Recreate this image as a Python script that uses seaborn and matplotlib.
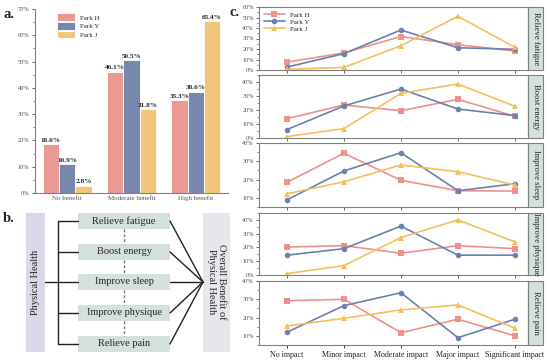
import numpy as np
import pandas as pd
import seaborn as sns
import matplotlib.pyplot as plt
from matplotlib.patches import Rectangle
from matplotlib.ticker import MultipleLocator, PercentFormatter

parks = ['Park H', 'Park Y', 'Park J']
benefit = ['No benefit', 'Moderate benefit', 'High benefit']
park_h_benefit = [18.6, 46.1, 35.3]
park_y_benefit = [10.9, 50.5, 38.6]
park_j_benefit = [2.8, 31.8, 65.4]

impact = ['No impact', 'Minor impact', 'Moderate impact', 'Major impact', 'Significant impact']
items = ['Relieve fatigue', 'Boost energy', 'Improve sleep', 'Improve physique', 'Relieve pain']

park_h = {
    'Relieve fatigue': [7.5, 16.3, 31.9, 24.1, 18.1],
    'Boost energy': [13.8, 23.6, 19.5, 27.6, 15.5],
    'Improve sleep': [18.5, 34.4, 19.6, 13.9, 13.7],
    'Improve physique': [20.3, 21.3, 15.8, 21.3, 19.1],
    'Relieve pain': [29.2, 30.0, 11.7, 19.1, 10.0],
}
park_y = {
    'Relieve fatigue': [2.8, 15.6, 38.1, 21.2, 19.7],
    'Boost energy': [6.0, 22.9, 35.0, 20.7, 16.0],
    'Improve sleep': [8.9, 24.7, 34.7, 13.9, 17.7],
    'Improve physique': [14.4, 19.1, 35.5, 14.4, 14.4],
    'Relieve pain': [12.0, 26.5, 33.6, 9.0, 19.1],
}
park_j = {
    'Relieve fatigue': [0.6, 2.5, 23.1, 51.2, 21.6],
    'Boost energy': [1.0, 6.7, 31.9, 38.6, 22.6],
    'Improve sleep': [12.2, 18.8, 28.0, 24.3, 17.0],
    'Improve physique': [1.0, 6.8, 27.2, 40.0, 24.0],
    'Relieve pain': [15.4, 19.6, 24.2, 26.9, 14.2],
}

bar_colors = {'Park H': '#E99A94', 'Park Y': '#7688AB', 'Park J': '#F2C67A'}
line_colors = {'Park H': '#EE918C', 'Park Y': '#6C80B0', 'Park J': '#F5BF5C'}
markers = {'Park H': 's', 'Park Y': 'o', 'Park J': '^'}

sns.set_style('ticks')
plt.rcParams['font.family'] = ['Liberation Serif', 'DejaVu Serif']
plt.rcParams['axes.edgecolor'] = '#808080'
plt.rcParams['axes.linewidth'] = 0.8
plt.rcParams['xtick.color'] = '#555555'
plt.rcParams['ytick.color'] = '#555555'

W, H = 550, 361
fig = plt.figure(figsize=(5.5, 3.61), dpi=100)


def box(x0, y0, x1, y1):
    return [x0 / W, 1 - y1 / H, (x1 - x0) / W, (y1 - y0) / H]


# ---- panel a
df_a = pd.DataFrame({
    'benefit': benefit * 3,
    'park': np.repeat(parks, 3),
    'value': park_h_benefit + park_y_benefit + park_j_benefit,
})
ax_a = fig.add_axes(box(35, 9, 228, 193))
sns.barplot(data=df_a, x='benefit', y='value', hue='park', palette=bar_colors,
            width=0.76, edgecolor='white', linewidth=0.6, saturation=1, ax=ax_a)
for c in ax_a.containers:
    ax_a.bar_label(c, fmt='%.1f%%', fontsize=5.2, fontweight='bold', padding=1)
ax_a.set_ylim(0, 70)
ax_a.yaxis.set_major_locator(MultipleLocator(10))
ax_a.yaxis.set_minor_locator(MultipleLocator(5))
ax_a.yaxis.set_major_formatter(PercentFormatter(decimals=0))
ax_a.tick_params(labelsize=4.6, length=2.5, width=0.6, pad=1.5)
ax_a.tick_params(which='minor', length=1.5, width=0.5)
ax_a.tick_params(axis='x', length=0, labelsize=5, pad=2)
ax_a.set_xlabel('')
ax_a.set_ylabel('')
sns.despine(ax=ax_a)
ax_a.legend(loc='upper left', bbox_to_anchor=(0.08, 1.01), frameon=False, fontsize=5,
            handlelength=2.6, handleheight=1.3, labelspacing=0.15)

# ---- panel b
ax_b = fig.add_axes(box(20, 198, 235, 358))
ax_b.set_xlim(20, 235)
ax_b.set_ylim(358, 198)
ax_b.axis('off')
ax_b.add_patch(Rectangle((26, 213), 19, 139, color='#DAD8E8', lw=0))
ax_b.text(35.5, 282, 'Physical Health', rotation=90, ha='center', va='center', fontsize=7.5)
ax_b.add_patch(Rectangle((203, 213), 27, 139, color='#E6E7EC', lw=0))
ax_b.text(216.5, 282, 'Overall Benefit of\nPhysical Health', rotation=270, ha='center',
          va='center', fontsize=7.5, linespacing=1.2)
ys = [221, 252, 282, 313, 344]
ax_b.plot([45, 58], [282, 282], color='#222222', lw=1)
ax_b.plot([58, 58], [ys[0], ys[-1]], color='#222222', lw=1)
for i, (name, y) in enumerate(zip(items, ys)):
    ax_b.plot([58, 78], [y, y], color='#222222', lw=1)
    ax_b.add_patch(Rectangle((78, y - 8), 92, 16, color='#D4E0DD', lw=0))
    ax_b.text(124, y, name, ha='center', va='center', fontsize=7.5)
    ax_b.plot([170, 203], [y, 282], color='#222222', lw=1)
    if i < 4:
        ax_b.plot([124, 124], [y + 8, ys[i + 1] - 8], color='#777777', lw=1, ls=(0, (2, 1.5)))

# ---- panel c
rows = []
for name in items:
    for park, d in zip(parks, [park_h, park_y, park_j]):
        for lev, v in zip(impact, d[name]):
            rows.append({'item': name, 'park': park, 'impact': lev, 'value': v})
df_c = pd.DataFrame(rows)

tops = [7, 75, 143, 213, 281]
bots = [70, 138, 207, 275, 345]
ylims = [(0, 60), (0, 45), (5, 40), (0, 45), (5, 40)]
for i, name in enumerate(items):
    ax = fig.add_axes(box(259, tops[i], 528, bots[i]))
    sns.lineplot(data=df_c[df_c['item'] == name], x='impact', y='value', hue='park',
                 style='park', markers=markers, dashes=False, palette=line_colors,
                 sort=False, lw=1.2, markersize=4, markeredgewidth=0, ax=ax,
                 legend=(i == 0))
    ax.set_xlim(-0.49, 4.23)
    ax.set_ylim(*ylims[i])
    ax.yaxis.set_major_locator(MultipleLocator(10))
    ax.yaxis.set_minor_locator(MultipleLocator(5))
    ax.yaxis.set_major_formatter(PercentFormatter(decimals=0))
    ax.tick_params(labelsize=4.5, length=2.5, width=0.6, pad=1.2)
    ax.tick_params(which='minor', length=1.5, width=0.5)
    ax.set_xlabel('')
    ax.set_ylabel('')
    if i < 4:
        ax.tick_params(axis='x', labelbottom=False)
    else:
        ax.tick_params(axis='x', labelsize=5.8, colors='#222222', pad=2)
    ax.add_patch(Rectangle((1.0, 0), 15 / 269, 1, transform=ax.transAxes, clip_on=False,
                           facecolor='#D4E0DD', edgecolor='#808080', lw=0.8))
    ax.text(1 + 7.5 / 269, 0.5, name, transform=ax.transAxes, rotation=270,
            ha='center', va='center', fontsize=6.2)
    if i == 0:
        ax.legend(loc='upper left', frameon=False, fontsize=5, handlelength=3,
                  labelspacing=0.15, borderaxespad=0.3)

fig.text(3 / W, 1 - 14 / H, 'a.', fontsize=10.5, fontweight='bold', va='center')
fig.text(3 / W, 1 - 218 / H, 'b.', fontsize=10.5, fontweight='bold', va='center')
fig.text(229 / W, 1 - 12 / H, 'c.', fontsize=10.5, fontweight='bold', va='center')

fig.savefig('out.png', dpi=100)
